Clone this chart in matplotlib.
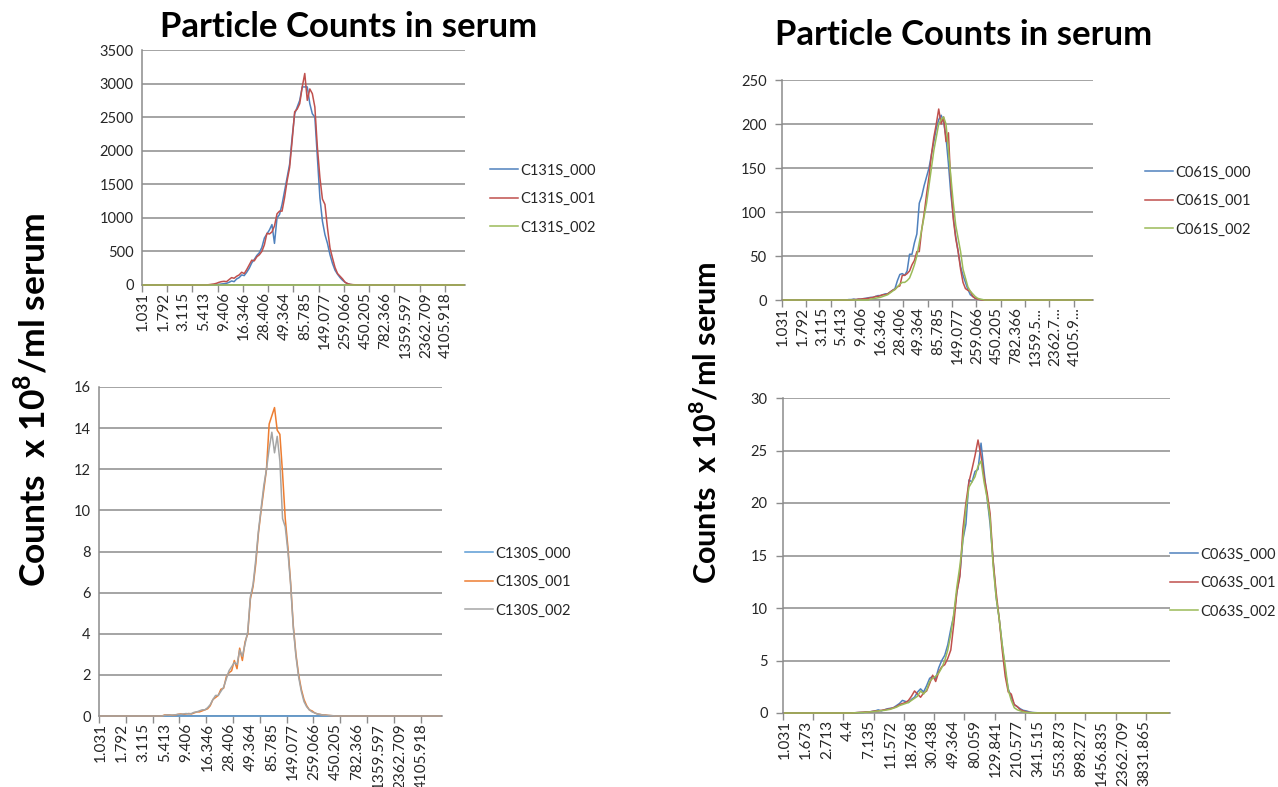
import numpy as np
import matplotlib
matplotlib.use("Agg")
import matplotlib.pyplot as plt
from matplotlib.ticker import FixedLocator

plt.rcParams['font.family'] = ['Lato', 'DejaVu Sans']
plt.rcParams['mathtext.fontset'] = 'custom'
plt.rcParams['mathtext.rm'] = 'Lato'
plt.rcParams['mathtext.bf'] = 'Lato:bold'

W, H = 1278, 787
N_BINS = 128  # size bins on the category axis

# axis labels shown (every 8th / 7th bin)
labels_131 = ['1.031', '1.792', '3.115', '5.413', '9.406', '16.346', '28.406', '49.364',
              '85.785', '149.077', '259.066', '450.205', '782.366', '1359.597', '2362.709', '4105.918']
labels_061 = ['1.031', '1.792', '3.115', '5.413', '9.406', '16.346', '28.406', '49.364',
              '85.785', '149.077', '259.066', '450.205', '782.366', '1359.5...', '2362.7...', '4105.9...']
labels_063 = ['1.031', '1.673', '2.713', '4.4', '7.135', '11.572', '18.768', '30.438', '49.364',
              '80.059', '129.841', '210.577', '341.515', '553.873', '898.277', '1456.835', '2362.709', '3831.865']

# series values (first bin index, then values), zeros elsewhere
c131s_000 = (26, [2, 3, 5, 8, 10, 15, 20, 25, 40, 60, 50, 90, 110, 150, 140, 190, 250, 330, 380, 440,
                  480, 560, 700, 760, 820, 900, 620, 1000, 1050, 1200, 1400, 1600, 1800, 2200, 2550,
                  2650, 2750, 2950, 2950, 2950, 2700, 2550, 2500, 1900, 1300, 950, 750, 620, 450, 320,
                  220, 160, 110, 70, 40, 20, 8, 4, 2])
c131s_001 = (26, [5, 10, 15, 25, 40, 50, 55, 50, 80, 110, 100, 130, 150, 190, 170, 230, 300, 370, 360, 420,
                  450, 500, 600, 770, 760, 790, 880, 1060, 1100, 1100, 1300, 1550, 1750, 2150, 2580,
                  2620, 2700, 2950, 3150, 2750, 2920, 2850, 2650, 2050, 1600, 1280, 1200, 850, 550, 400,
                  260, 170, 130, 90, 40, 20, 10, 5, 3, 2])
c131s_002 = (0, [])

c130s_000 = (0, [])
c130s_001 = (24, [0.05, 0.05, 0.05, 0.03, 0.05, 0.08, 0.1, 0.08, 0.1, 0.12, 0.1, 0.15, 0.2, 0.2, 0.25,
                  0.3, 0.35, 0.5, 0.8, 0.9, 1.0, 1.3, 1.35, 1.9, 2.1, 2.2, 2.7, 2.3, 3.3, 2.7,
                  3.6, 4.0, 5.7, 6.3, 7.4, 8.9, 10.0, 11.0, 12.0, 14.2, 14.6, 15.0, 13.9, 13.7, 11.8,
                  9.6, 8.2, 6.5, 4.4, 3.0, 2.0, 1.3, 0.8, 0.5, 0.3, 0.25, 0.15, 0.1, 0.08, 0.05,
                  0.05, 0.03, 0.02, 0.01])
c130s_002 = (24, [0.03, 0.05, 0.04, 0.05, 0.06, 0.08, 0.08, 0.1, 0.12, 0.1, 0.12, 0.18, 0.2, 0.25, 0.3,
                  0.3, 0.4, 0.55, 0.8, 1.0, 1.0, 1.2, 1.4, 1.8, 2.2, 2.4, 2.6, 2.5, 3.2, 2.9,
                  3.5, 4.1, 5.8, 6.4, 7.6, 9.0, 10.1, 11.2, 12.0, 13.0, 13.8, 12.8, 13.6, 12.4, 9.6,
                  9.2, 8.0, 6.4, 4.3, 2.9, 1.9, 1.2, 0.7, 0.45, 0.3, 0.2, 0.15, 0.1, 0.07, 0.05,
                  0.04, 0.03, 0.02, 0.01])

c061s_000 = (27, [0.5, 0.5, 1, 0.5, 1, 1, 1.5, 2, 2.5, 3, 3, 4, 5, 5, 6, 7, 7, 9, 11, 13,
                  22, 29, 30, 28, 33, 52, 52, 65, 75, 110, 118, 130, 140, 150, 165, 180, 195, 205, 210, 203,
                  185, 155, 120, 95, 72, 55, 38, 28, 20, 12, 6, 4, 2, 1, 0.5, 0.3])
c061s_001 = (29, [0.5, 0.5, 1, 1, 1.5, 1.5, 2, 2.5, 3, 4, 4, 5, 6, 6, 7, 9, 11, 12, 15, 16,
                  28, 28, 30, 33, 40, 45, 55, 55, 80, 98, 120, 140, 165, 185, 200, 217, 200, 208, 180, 190,
                  130, 92, 70, 55, 35, 20, 13, 11, 10, 4, 2, 1, 0.5])
c061s_002 = (36, [1, 1.5, 2, 2.5, 3, 4, 5, 6, 8, 10, 12, 15, 18, 20, 20, 22, 25, 32, 40, 50,
                  65, 80, 95, 110, 130, 150, 170, 185, 200, 205, 208, 200, 170, 140, 110, 85, 70, 55, 35, 25,
                  15, 10, 7, 4, 2, 1, 0.5])

c063s_000 = (23, [0.02, 0.05, 0.05, 0.05, 0.1, 0.1, 0.15, 0.2, 0.3, 0.2, 0.3, 0.4, 0.45, 0.5, 0.7,
                  0.9, 1.2, 1.1, 1.0, 1.3, 1.5, 2.0, 2.3, 2.0, 2.6, 3.3, 3.5, 3.3, 4.3, 5.0,
                  5.5, 6.5, 8.0, 9.3, 11.5, 13.2, 16.5, 18.0, 22.2, 22.0, 23.0, 23.2, 25.7, 23.0, 20.5,
                  18.0, 14.5, 11.0, 9.0, 6.5, 4.0, 2.3, 1.5, 0.8, 0.6, 0.4, 0.25, 0.2, 0.1, 0.05, 0.03])
c063s_001 = (23, [0.02, 0.03, 0.05, 0.08, 0.1, 0.1, 0.15, 0.2, 0.2, 0.25, 0.3, 0.35, 0.4, 0.5, 0.6,
                  0.8, 0.9, 1.0, 1.2, 1.6, 2.1, 1.8, 1.5, 1.9, 2.1, 2.8, 3.6, 3.0, 3.9, 4.4,
                  4.6, 5.2, 6.0, 8.5, 11.5, 13.0, 17.5, 20.0, 22.0, 23.2, 24.5, 26.0, 24.5, 22.5, 21.0,
                  19.0, 14.5, 11.5, 9.0, 6.0, 3.5, 2.0, 1.8, 0.8, 0.6, 0.3, 0.2, 0.1, 0.05, 0.03, 0.02])
c063s_002 = (23, [0.02, 0.03, 0.04, 0.05, 0.08, 0.1, 0.12, 0.15, 0.2, 0.22, 0.25, 0.3, 0.35, 0.45, 0.55,
                  0.7, 0.8, 0.9, 1.0, 1.2, 1.4, 1.6, 2.1, 1.8, 2.2, 3.0, 3.3, 3.5, 3.8, 4.3,
                  5.0, 6.0, 7.5, 9.5, 12.0, 14.0, 16.5, 19.5, 21.5, 22.0, 22.5, 23.5, 24.0, 22.0, 20.5,
                  18.5, 14.0, 11.0, 9.0, 6.5, 4.5, 2.2, 1.2, 0.5, 0.3, 0.2, 0.1, 0.05, 0.03, 0.02, 0.01])

OFFICE07 = ['#4F81BD', '#C0504D', '#9BBB59']
OFFICE13 = ['#5B9BD5', '#ED7D31', '#A5A5A5']
GRID = '#8C8C8C'
TXT = '#262626'


def full_series(seg):
    start, vals = seg
    arr = np.zeros(N_BINS)
    arr[start:start + len(vals)] = vals
    return arr


def px_rect(x0, y0, x1, y1):
    return [x0 / W, 1 - y1 / H, (x1 - x0) / W, (y1 - y0) / H]


def draw_panel(fig, rect, segs, names, colors, yticks, tick_labels, step, legend_xy, y_ticklen):
    ax = fig.add_axes(rect)
    x = np.arange(N_BINS)
    for seg, name, col in zip(segs, names, colors):
        ax.plot(x, full_series(seg), color=col, lw=1.1, label=name, zorder=3, clip_on=False)
    ax.set_xlim(-0.5, N_BINS - 0.5)
    ax.set_ylim(yticks[0], yticks[-1])
    ax.set_yticks(yticks)
    ax.yaxis.grid(True, color=GRID, lw=1.1)
    ax.set_axisbelow(True)
    ax.set_xticks(np.arange(len(tick_labels)) * step)
    ax.set_xticklabels(tick_labels, rotation=90)
    ax.xaxis.set_minor_locator(FixedLocator(np.arange(-0.5, N_BINS, 10)))
    ax.tick_params(axis='x', which='major', length=0, pad=5, labelsize=11, labelcolor=TXT)
    ax.tick_params(axis='x', which='minor', length=5, width=1, color=GRID)
    ax.tick_params(axis='y', length=y_ticklen, width=1, color=GRID, pad=6, labelsize=10.5, labelcolor=TXT)
    for s in ['top', 'right']:
        ax.spines[s].set_visible(False)
    for s in ['left', 'bottom']:
        ax.spines[s].set_color(GRID)
        ax.spines[s].set_linewidth(1.1)
    ax.legend(loc='center left', bbox_to_anchor=(legend_xy[0] / W, 1 - legend_xy[1] / H),
              bbox_transform=fig.transFigure, frameon=False, fontsize=10.5,
              handlelength=1.9, handletextpad=0.2, labelspacing=1.0, borderpad=0,
              borderaxespad=0, labelcolor=TXT)
    return ax


fig = plt.figure(figsize=(W / 100, H / 100), dpi=100)

draw_panel(fig, px_rect(142, 50, 465, 285), [c131s_000, c131s_001, c131s_002],
           ['C131S_000', 'C131S_001', 'C131S_002'], OFFICE07,
           np.arange(0, 3501, 500), labels_131, 8, (490, 199), 0)
draw_panel(fig, px_rect(99, 387, 442, 716), [c130s_000, c130s_001, c130s_002],
           ['C130S_000', 'C130S_001', 'C130S_002'], OFFICE13,
           np.arange(0, 17, 2), labels_131, 8, (465, 582), 0)
draw_panel(fig, px_rect(782, 80, 1093, 300), [c061s_000, c061s_001, c061s_002],
           ['C061S_000', 'C061S_001', 'C061S_002'], OFFICE07,
           np.arange(0, 251, 50), labels_061, 8, (1145, 201), 5)
draw_panel(fig, px_rect(783, 398, 1170, 713), [c063s_000, c063s_001, c063s_002],
           ['C063S_000', 'C063S_001', 'C063S_002'], OFFICE07,
           np.arange(0, 31, 5), labels_063, 7, (1170, 583), 5)

title = 'Particle Counts in serum'
fig.text(349 / W, 1 - 27 / H, title, ha='center', va='center', fontsize=25, fontweight='bold', color='black')
fig.text(964 / W, 1 - 35 / H, title, ha='center', va='center', fontsize=25, fontweight='bold', color='black')

ylab = r'Counts  x 10$^{\mathbf{8}}$/ml serum'
fig.text(32 / W, 1 - 400 / H, ylab, rotation=90, ha='center', va='center', fontsize=25.5, fontweight='bold')
fig.text(705 / W, 1 - 423 / H, ylab, rotation=90, ha='center', va='center', fontsize=22, fontweight='bold')

fig.savefig('out.png', dpi=100)
